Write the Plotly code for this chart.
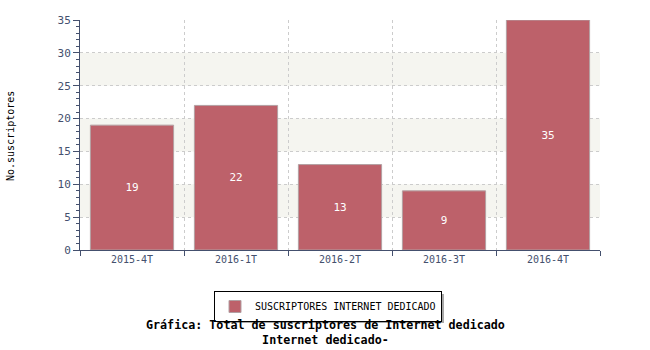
import plotly.graph_objects as go

categories = ["2015-4T", "2016-1T", "2016-2T", "2016-3T", "2016-4T"]
values = [19, 22, 13, 9, 35]
series_name = "SUSCRIPTORES INTERNET DEDICADO"
y_label = "No.suscriptores"
title_text = "Gráfica: Total de suscriptores de Internet dedicado<br>Internet dedicado-"

mono = "DejaVu Sans Mono"
axis_col = "#44506e"
bar_col = "#bd616a"

def py(px):
    return (250 - px) / 230

def px_(x):
    return (x - 80) / 520

fig = go.Figure()
fig.add_trace(go.Bar(
    x=categories, y=values, name=series_name,
    marker=dict(color=bar_col, line=dict(color="#b3a0a3", width=1)),
    width=0.8,
    text=[str(v) for v in values], textposition="inside",
    insidetextanchor="middle",
    textfont=dict(family=mono, size=11, color="white"),
    showlegend=True,
))

shapes = []
for lo, hi in [(5, 10), (15, 20), (25, 30)]:
    shapes.append(dict(type="rect", xref="paper", yref="y", x0=0, x1=1, y0=lo, y1=hi,
                       fillcolor="#f5f5f0", line=dict(width=0), layer="below"))
# legend drop shadow
shapes.append(dict(type="rect", xref="paper", yref="paper",
                   x0=px_(217), x1=px_(444), y0=py(323), y1=py(294),
                   fillcolor="#a8a8a8", line=dict(width=0), layer="above"))

fig.update_layout(
    width=650, height=350,
    margin=dict(l=80, r=50, t=20, b=100),
    paper_bgcolor="white", plot_bgcolor="white",
    shapes=shapes,
    xaxis=dict(
        type="category", tickson="boundaries",
        showgrid=True, gridcolor="#cccccc", griddash="dot", gridwidth=1,
        showline=True, linecolor=axis_col, linewidth=1,
        ticks="outside", ticklen=5, tickcolor=axis_col,
        tickfont=dict(family=mono, size=10, color=axis_col),
        range=[-0.5, 4.5], automargin=False,
    ),
    yaxis=dict(
        range=[0, 35], dtick=5, tick0=0,
        showgrid=True, gridcolor="#cccccc", griddash="dot", gridwidth=1,
        showline=True, linecolor=axis_col, linewidth=1,
        ticks="outside", ticklen=6, tickcolor=axis_col,
        minor=dict(dtick=1, ticks="outside", ticklen=3, tickcolor=axis_col, showgrid=False),
        tickfont=dict(family=mono, size=11, color=axis_col),
        zeroline=False, automargin=False,
    ),
    legend=dict(
        orientation="h", x=px_(328), xanchor="center",
        y=py(291), yanchor="top",
        bordercolor="black", borderwidth=1, bgcolor="white",
        font=dict(family=mono, size=10, color="black"),
        tracegroupgap=0,
    ),
    annotations=[
        dict(
            text="<b>" + title_text + "</b>", xref="paper", yref="paper",
            x=px_(325), xanchor="center", y=py(316), yanchor="top",
            showarrow=False, align="center",
            font=dict(family=mono, size=11.7, color="black"),
        ),
        dict(
            text=y_label, xref="paper", yref="paper",
            x=px_(10), xanchor="center", y=py(136), yanchor="middle",
            textangle=-90, showarrow=False,
            font=dict(family=mono, size=10, color="black"),
        ),
    ],
)

fig.write_html("out.html")
